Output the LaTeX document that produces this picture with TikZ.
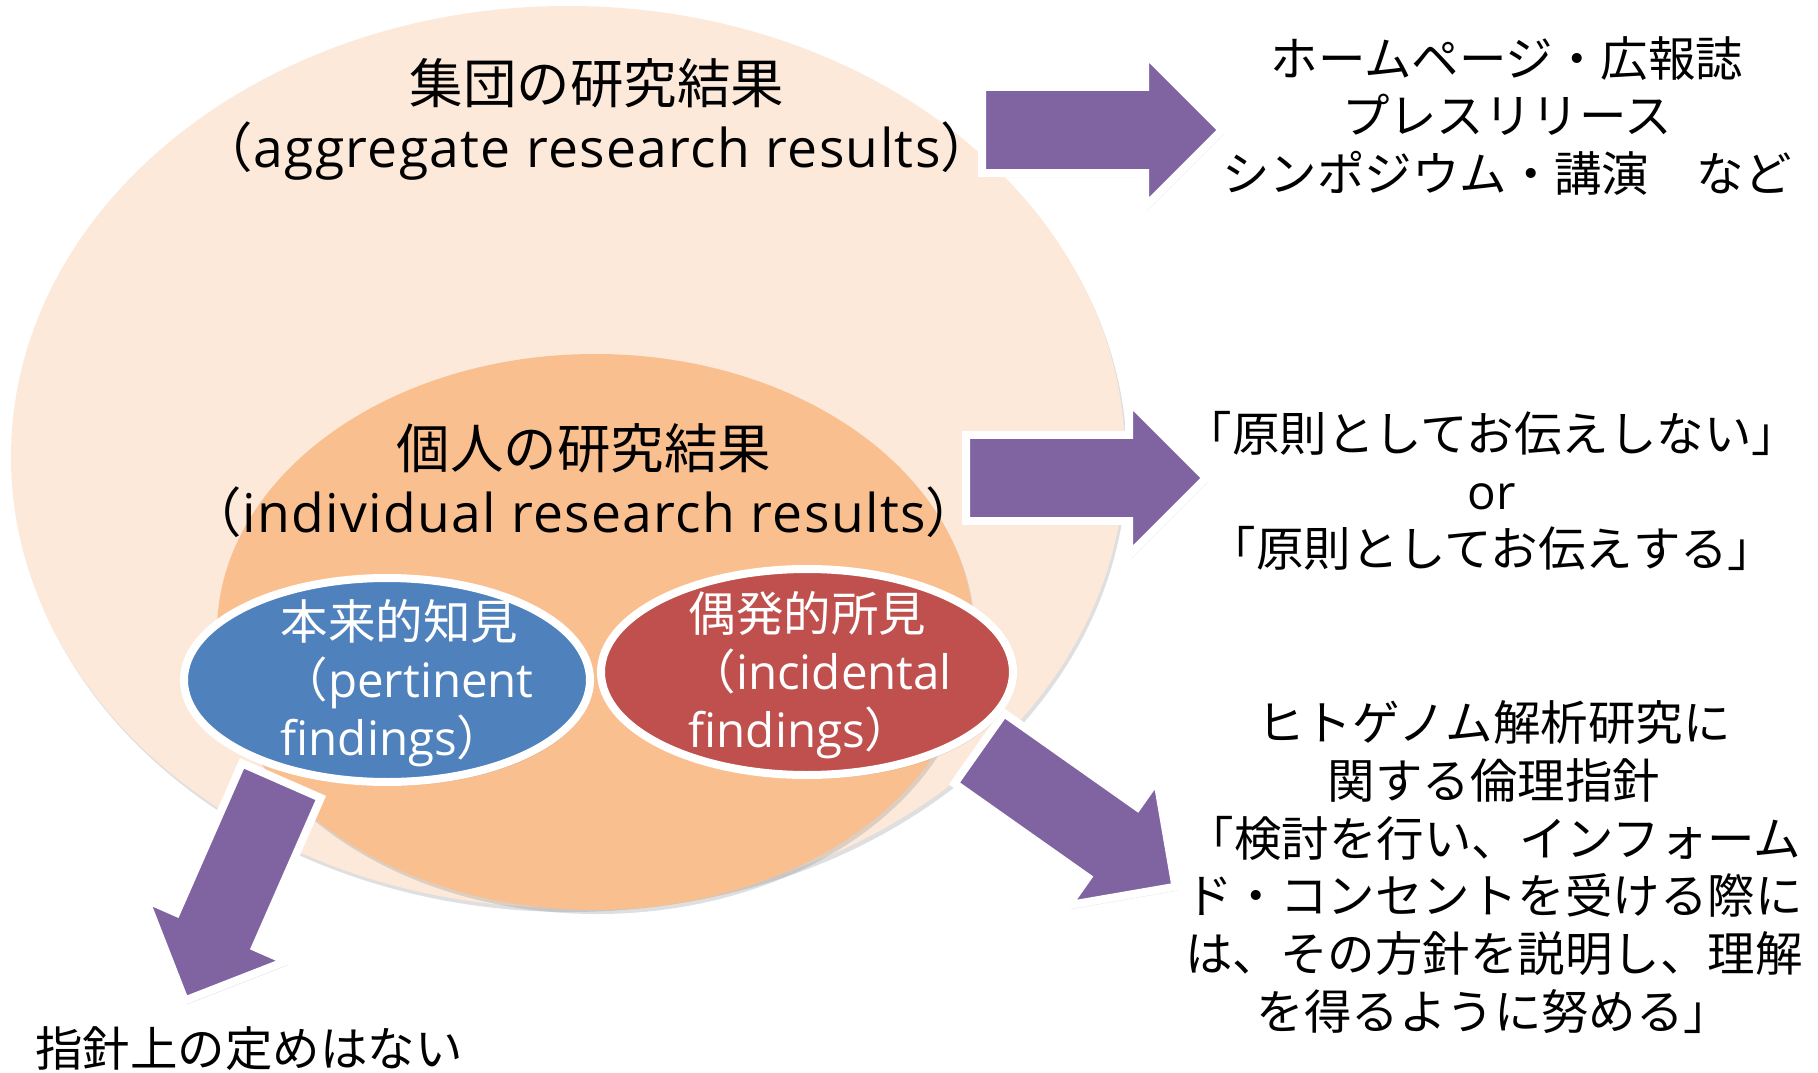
\documentclass[tikz,border=0pt]{standalone}
\usepackage{fontspec}
\setmainfont{Noto Sans CJK JP}
\newfontfamily\en{Open Sans}
\newfontfamily\enwide{Open Sans}[LetterSpace=2.5]
\usetikzlibrary{shapes.arrows}
\usetikzlibrary{shadows}
\definecolor{peach}{HTML}{FDE9D9}
\definecolor{apricot}{HTML}{F9BF8F}
\definecolor{pertblue}{HTML}{4F81BD}
\definecolor{incired}{HTML}{C0504D}
\definecolor{plum}{HTML}{8064A2}
\tikzstyle{shade} = [drop shadow={shadow xshift=0.02cm, shadow yshift=-0.04cm, opacity=0.25}]
\tikzstyle{heading} = [font=\fontsize{15.2}{18.2}\selectfont, align=center]
\tikzstyle{note} = [font=\fontsize{13.5}{16.4}\selectfont, align=center]
\tikzstyle{finding} = [font=\fontsize{13.5}{16.4}\selectfont, align=left, text=white, inner sep=0pt, anchor=west]
\tikzstyle{rim} = [draw=white, line width=0.08cm, shade]
\tikzstyle{fatarrow} = [single arrow, fill=plum, rim, anchor=tail, inner xsep=0pt, inner ysep=0.39cm,
  minimum height=2.4cm, minimum width=1.46cm, single arrow head extend=0.34cm]

\begin{document}
\begin{tikzpicture}[x=0.01cm, y=-0.01cm]
			\fill[white] (0,0) rectangle (1818,1073);
			\useasboundingbox (0,0) rectangle (1818,1073);
			
			\fill[peach, shade] (568,457) ellipse [x radius=557, y radius=451];
			\fill[apricot, shade] (595,632) ellipse [x radius=378, y radius=278];
			
			\node[heading] (group) at (597,119) {集団の研究結果\\（{\enwide aggregate research results}）};
			\node[heading] (indiv) at (584,481) {個人の研究結果\\（{\enwide individual research results}）};
			
			\node[fatarrow] (a1) at (978,130) {};
			\node[fatarrow] (a2) at (962,478) {};
			\node[fatarrow, rotate=-35.2] (a3) at (976,746) {};
			\node[fatarrow, rotate=-113.7] (a4) at (283,777) {};
			
			\filldraw[pertblue, rim] (387,680) ellipse [x radius=203, y radius=102];
			\filldraw[incired, rim] (807,672) ellipse [x radius=206, y radius=103];
			\node[finding] (pert) at (280,683) {本来的知見\\（{\en pertinent}\\{\en findings}）};
			\node[finding] (inci) at (688,675) {偶発的所見\\（{\en incidental}\\{\en findings}）};
			
			\node[note] (media) at (1507,116) {ホームページ・広報誌\\プレスリリース\\シンポジウム・講演　など};
			\node[note] (policy) at (1492,491) {「原則としてお伝えしない」\\{\en or}\\「原則としてお伝えする」};
			\node[note] (guide) at (1494,867) {ヒトゲノム解析研究に\\関する倫理指針\\「検討を行い、インフォーム\\ド・コンセントを受ける際に\\は、その方針を説明し、理解\\を得るように努める」};
			\node[note] (none) at (249,1049) {指針上の定めはない};
		\end{tikzpicture}
\end{document}
